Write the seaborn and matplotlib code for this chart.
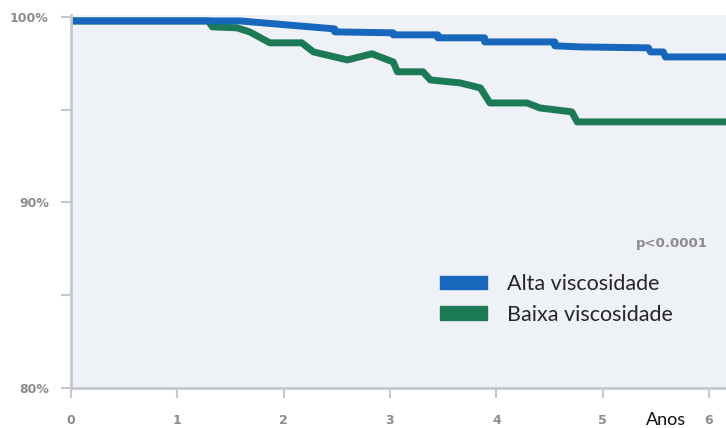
import pandas as pd
import matplotlib.pyplot as plt
import seaborn as sns
from matplotlib.patches import Patch

# Survival curves (years, % survival)
alta_anos = [0, 1.59, 2.48, 2.48, 3.03, 3.03, 3.45, 3.45, 3.89, 3.89, 4.55, 4.55,
             4.79, 5.43, 5.45, 5.57, 5.59, 6.16]
alta_sobrev = [99.78, 99.78, 99.35, 99.19, 99.14, 99.03, 99.03, 98.87, 98.87, 98.65,
               98.65, 98.44, 98.38, 98.33, 98.11, 98.11, 97.84, 97.84]

baixa_anos = [0, 1.29, 1.33, 1.56, 1.68, 1.87, 2.17, 2.28, 2.60, 2.83, 3.03, 3.07,
              3.31, 3.38, 3.66, 3.85, 3.94, 4.29, 4.41, 4.71, 4.76, 6.16]
baixa_sobrev = [99.78, 99.78, 99.46, 99.41, 99.19, 98.60, 98.60, 98.11, 97.68, 98.01,
                97.57, 97.04, 97.04, 96.60, 96.44, 96.17, 95.36, 95.36, 95.09, 94.88,
                94.34, 94.34]

grupos = ["Baixa viscosidade", "Alta viscosidade"]
cores = {"Alta viscosidade": "#1767bd", "Baixa viscosidade": "#1d7a56"}

x_ticks = [0, 1, 2, 3, 4, 5, 6]
y_ticks = [80, 85, 90, 95, 100]
y_labels = ["80%", "", "90%", "", "100%"]

df = pd.concat([
    pd.DataFrame({"anos": baixa_anos, "sobrev": baixa_sobrev, "grupo": grupos[0]}),
    pd.DataFrame({"anos": alta_anos, "sobrev": alta_sobrev, "grupo": grupos[1]}),
])

sns.set_style("white")
plt.rcParams["font.family"] = ["DejaVu Sans"]

fig = plt.figure(figsize=(7.26, 4.28), dpi=100)
ax = fig.add_axes([71 / 726, 1 - 388 / 428, 1 - 71 / 726, (388 - 15) / 428])
ax.set_facecolor("#eef1f6")

sns.lineplot(data=df, x="anos", y="sobrev", hue="grupo", hue_order=grupos,
             palette=cores, estimator=None, sort=False, lw=5, legend=False, ax=ax)

ax.set_xlim(0, 6.16)
ax.set_ylim(80, 100.1)
ax.set_xticks(x_ticks)
ax.set_yticks(y_ticks)
ax.set_yticklabels(y_labels)
ax.set_xlabel("")
ax.set_ylabel("")
ax.tick_params(axis="both", bottom=True, left=True, length=7, width=1.5,
               color="#c5c9cd", labelsize=9, labelcolor="#8c8c8c")
ax.tick_params(axis="x", pad=12)
ax.tick_params(axis="y", pad=9)
for lab in ax.get_xticklabels() + ax.get_yticklabels():
    lab.set_fontweight("bold")
for side in ["top", "right"]:
    ax.spines[side].set_visible(False)
for side in ["left", "bottom"]:
    ax.spines[side].set_color("#c5c9cd")
    ax.spines[side].set_linewidth(2)

fig.text(672 / 726, 1 - 243 / 428, "p<0.0001", ha="center", va="center",
         fontsize=9.5, color="#8c8c8c", fontweight="bold")
fig.text(0.918, 1 - 420 / 428, "Anos", ha="center", va="center", fontsize=13,
         family=["Lato", "DejaVu Sans"], color="#111111")

handles = [Patch(color=cores["Alta viscosidade"]), Patch(color=cores["Baixa viscosidade"])]
fig.legend(handles, ["Alta viscosidade", "Baixa viscosidade"], loc="upper left",
           bbox_to_anchor=(440 / 726, 1 - 274 / 428), frameon=False, borderpad=0,
           borderaxespad=0, handlelength=2.2, handleheight=0.6, handletextpad=0.9,
           labelspacing=0.5, prop={"family": ["Lato", "DejaVu Sans"], "size": 15.5})

plt.savefig("out.png", dpi=100)
